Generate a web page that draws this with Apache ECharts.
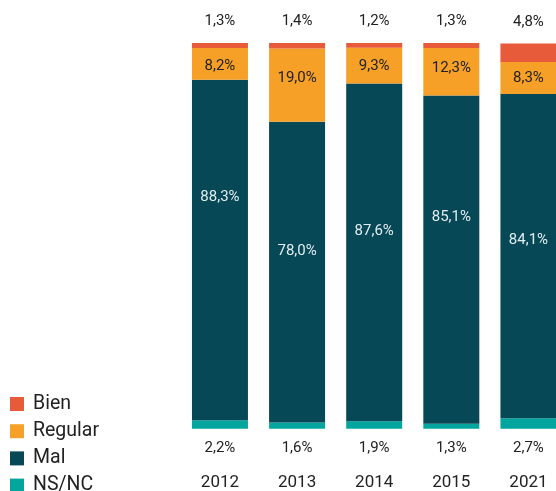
<!DOCTYPE html>
<html>
<head>
<meta charset="utf-8">
<script src="https://cdn.jsdelivr.net/npm/echarts@6/dist/echarts.min.js"></script>
<style>
  html, body { margin: 0; padding: 0; background: #fff; }
  #chart { width: 556px; height: 491px; }
</style>
</head>
<body>
<div id="chart"></div>
<script>
// Survey answers per year (percent)
const years = ['2012', '2013', '2014', '2015', '2021'];
const bien = [1.3, 1.4, 1.2, 1.3, 4.8];
const regular = [8.2, 19.0, 9.3, 12.3, 8.3];
const mal = [88.3, 78.0, 87.6, 85.1, 84.1];
const nsnc = [2.2, 1.6, 1.9, 1.3, 2.7];

// Vertical nudges for the labels inside the large "Mal" segments
const malLabelShift = [-53, -21, -21, -42, -16];
const regLabelShift = [2, -7, 1, -3, 0];

const colors = {
  bien: '#E85B3A',
  regular: '#F6A027',
  mal: '#064856',
  nsnc: '#03A69F'
};

const fmt = v => v.toFixed(1).replace('.', ',') + '%';
const baseLabel = {
  show: true,
  fontFamily: 'Roboto',
  fontSize: 15,
  color: '#222',
  formatter: p => fmt(p.value)
};

const chart = echarts.init(document.getElementById('chart'), null, { renderer: 'canvas' });

chart.setOption({
  animation: false,
  textStyle: { fontFamily: 'Roboto' },
  grid: { left: 181.4, right: -11, top: 43, bottom: 62.3, containLabel: false, outerBoundsMode: 'none' },
  legend: {
    orient: 'vertical',
    left: 10,
    top: 394,
    width: 160,
    height: 120,
    padding: 0,
    itemWidth: 14,
    itemHeight: 14,
    itemGap: 7.2,
    icon: 'rect',
    data: ['Bien', 'Regular', 'Mal', 'NS/NC'],
    textStyle: { fontFamily: 'Roboto', fontSize: 19.5, lineHeight: 19, color: '#222', padding: [0, 0, 0, 4] }
  },
  xAxis: {
    type: 'category',
    data: years,
    axisLine: { show: false },
    axisTick: { show: false },
    axisLabel: { fontFamily: 'Roboto', fontSize: 17, color: '#222', margin: 46 }
  },
  yAxis: {
    type: 'value',
    min: 0,
    max: 100,
    show: false,
    splitLine: { show: false }
  },
  series: [
    {
      name: 'NS/NC', type: 'bar', stack: 'total', barWidth: 56,
      itemStyle: { color: colors.nsnc },
      label: Object.assign({}, baseLabel, { position: 'bottom', distance: 12 }),
      data: nsnc
    },
    {
      name: 'Mal', type: 'bar', stack: 'total', barWidth: 56,
      itemStyle: { color: colors.mal },
      label: Object.assign({}, baseLabel, { position: 'inside', color: '#E3ECEE' }),
      data: mal.map((v, i) => ({ value: v, label: { offset: [0, malLabelShift[i]] } }))
    },
    {
      name: 'Regular', type: 'bar', stack: 'total', barWidth: 56,
      itemStyle: { color: colors.regular },
      label: Object.assign({}, baseLabel, { position: 'inside' }),
      data: regular.map((v, i) => ({ value: v, label: { offset: [0, regLabelShift[i]] } }))
    },
    {
      name: 'Bien', type: 'bar', stack: 'total', barWidth: 56,
      itemStyle: { color: colors.bien },
      label: Object.assign({}, baseLabel, { position: 'top', distance: 14 }),
      data: bien
    }
  ]
});
</script>
</body>
</html>
